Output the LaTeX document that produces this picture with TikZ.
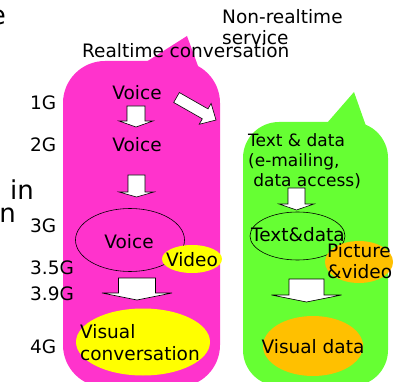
\documentclass[tikz,border=0pt]{standalone}
\usepackage{fontspec}
\setmainfont{DejaVu Sans}
\definecolor{rtpink}{HTML}{FF33CC}
\definecolor{nrtgreen}{HTML}{66FF33}
\definecolor{vyellow}{HTML}{FFFF00}
\definecolor{vorange}{HTML}{FFC000}

% a white block arrow pointing down: x, top, stem half, head half, head start, tip
\newcommand{\blockdown}[6]{%
  \draw[blk] (#1-#3,#2) -- (#1+#3,#2) -- (#1+#3,#5) -- (#1+#4,#5) -- (#1,#6)
    -- (#1-#4,#5) -- (#1-#3,#5) -- cycle;}

\begin{document}
\begin{tikzpicture}[x=1pt, y=-1pt,
  blk/.style   = {draw=black, fill=white, line width=0.6pt, line join=miter},
  ring/.style  = {draw=black, line width=0.6pt},
  txt/.style   = {font=\fontsize{18.5}{21.5}\selectfont, inner sep=0pt, align=left},
  gen/.style   = {txt, anchor=base west},   % multi-line: base is the last line
  mid/.style   = {txt, anchor=base},
  small/.style = {font=\fontsize{17}{20}\selectfont, inner sep=0pt, align=left,
                  anchor=base west},
  big/.style   = {font=\fontsize{26}{26}\selectfont, inner sep=0pt, anchor=base east},
]
  \useasboundingbox (0,0) rectangle (399,382);

  % the two callouts: a rounded body and a wedge poking up
  \fill[rtpink, rounded corners=42pt] (63,61) rectangle (220,387);
  \fill[rtpink] (146,62) -- (187,36) -- (198,66) -- cycle;
  \fill[nrtgreen, rounded corners=36pt] (243,122) rectangle (388,386);
  \fill[nrtgreen] (327,123) -- (354,92) -- (366,126) -- cycle;

  % text cut off by the left edge
  \node[big] (cut_e) at (6,25) {e};
  \node[big] (cut_in) at (34,200) {in};
  \node[big] (cut_n) at (16,223) {n};

  \node[gen] (nrt) at (222,45) {Non-realtime\\service};
  \node[gen] (rt) at (82,58) {Realtime conversation};

  % generations
  \node[gen] (g1) at (30,110) {1G};
  \node[gen] (g2) at (30,152) {2G};
  \node[gen] (g3) at (30,233) {3G};
  \node[gen] (g35) at (30,275) {3.5G};
  \node[gen] (g39) at (30,300) {3.9G};
  \node[gen] (g4) at (30,353) {4G};

  % realtime column
  \node[mid] (voice1) at (137,100) {Voice};
  \blockdown{136}{106}{9}{17}{121}{127}
  \node[mid] (voice2) at (137,152) {Voice};
  \blockdown{136.5}{175}{8.5}{17.5}{192}{197}
  \draw[ring] (130,240) ellipse [x radius=54.5, y radius=31.5];
  \node[mid] (voice3) at (129,248) {Voice};
  \fill[vyellow] (192,259) ellipse [x radius=30, y radius=14];
  \node[mid] (video) at (192,266) {Video};
  \blockdown{137}{278}{18.5}{35}{293}{300}
  \fill[vyellow] (143,342) ellipse [x radius=67, y radius=33.5];
  \node[gen] (visconv) at (80,360) {Visual\\conversation};

  % shift from voice to the non-realtime side
  \begin{scope}[shift={(176.5,97.5)}, rotate=-29.7]
    \draw[blk] (0,-5.7) -- (33,-5.7) -- (33,-12) -- (45.5,0) -- (33,12)
      -- (33,5.7) -- (0,5.7) -- cycle;
  \end{scope}

  % non-realtime column
  \node[small] (textdata) at (248,187)
    {Text \& data\\(e-mailing,\\\hspace*{0.3em}data access)};
  \blockdown{296.5}{188}{8.5}{17.5}{204}{210}
  \draw[ring] (297.5,236) ellipse [x radius=47.5, y radius=24];
  \fill[vorange] (359,262) ellipse [x radius=34, y radius=21];
  \node[mid] (textdata3) at (298,242) {Text\&data};
  \node[gen] (picvid) at (327,279) {Picture\\\&video};
  \blockdown{306.5}{279}{17.5}{35}{295}{302}
  \fill[vorange] (313,346) ellipse [x radius=50, y radius=30];
  \node[mid] (visdata) at (313,353) {Visual data};
\end{tikzpicture}
\end{document}
